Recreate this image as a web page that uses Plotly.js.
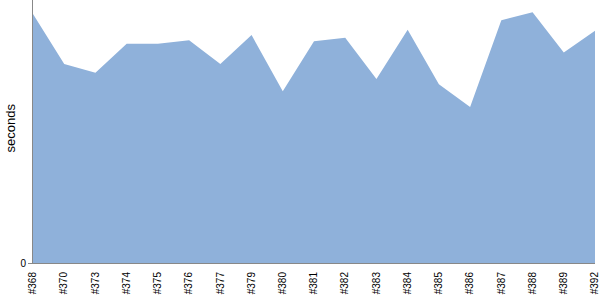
<!DOCTYPE html>
<html><head><meta charset="utf-8">
<script src="https://cdn.plot.ly/plotly-3.0.1.min.js"></script>
<style>html,body{margin:0;padding:0;background:#fff}#chart{width:600px;height:300px}</style>
</head><body><div id="chart"></div>
<script>
const builds = ["#368","#370","#373","#374","#375","#376","#377","#379","#380","#381","#382","#383","#384","#385","#386","#387","#388","#389","#392"];
const seconds = [284,227,217,250,250,254,227,260,196,253,257,210,266,204,178,277,286,240,265];
const yTickVals = [0];
const yTickText = ["0"];
const yTitle = "seconds";

Plotly.newPlot("chart", [{
  type: "scatter", mode: "lines", x: builds, y: seconds,
  fill: "tozeroy", fillcolor: "#8FB1DA",
  line: {width: 0, color: "#8FB1DA"}, hoverinfo: "x+y"
}], {
  width: 600, height: 300,
  margin: {l: 33, r: 5, t: 0, b: 37},
  paper_bgcolor: "#fff", plot_bgcolor: "#fff",
  showlegend: false,
  font: {family: "Liberation Sans, Arial, sans-serif", size: 10, color: "#000"},
  xaxis: {type: "category", range: [0, builds.length - 1], showgrid: false, zeroline: false,
    showline: true, linecolor: "#888", linewidth: 1, ticks: "outside", ticklen: 4, tickcolor: "rgba(0,0,0,0)", tickangle: -90,
    tickfont: {size: 10, color: "#000"}, automargin: false},
  yaxis: {range: [0, 300], tickvals: yTickVals, ticktext: yTickText, showgrid: false, zeroline: false,
    showline: true, linecolor: "#888", linewidth: 1, ticks: "outside", ticklen: 4, tickcolor: "#888",
    tickfont: {size: 10, color: "#000"}, automargin: false},
  annotations: [{text: yTitle, xref: "paper", yref: "paper", x: 0, y: 0.5, xshift: -23, yshift: 3,
    xanchor: "center", yanchor: "middle", textangle: -90, showarrow: false,
    font: {size: 13, color: "#000", family: "Liberation Sans, Arial, sans-serif"}}]
}, {displayModeBar: false, staticPlot: true});
</script></body></html>
